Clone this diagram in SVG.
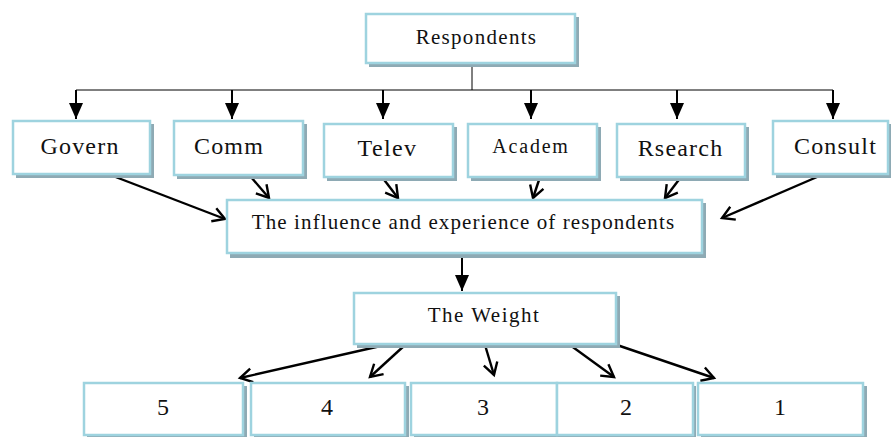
<svg xmlns="http://www.w3.org/2000/svg" width="891" height="437" viewBox="0 0 891 437">
<defs>
<style>
.sh{fill:#8eaab4}
.bx{fill:#fff;stroke:#9ed3df;stroke-width:2.5}
.t{font-family:'Liberation Serif','Times New Roman',serif;fill:#111;text-anchor:middle}
.thin{stroke:#000;stroke-width:1;fill:none}
.ar{stroke:#000;stroke-width:2;fill:none}
.ao{stroke:#000;stroke-width:2.4;fill:none}
</style>
<marker id="fa" markerUnits="userSpaceOnUse" markerWidth="16" markerHeight="14" refX="16" refY="7" orient="auto">
<path d="M0,0 L16,7 L0,14 z" fill="#000"/>
</marker>
<marker id="oa" markerUnits="userSpaceOnUse" markerWidth="16" markerHeight="18" refX="13" refY="9" orient="auto">
<path d="M1,2 L13,9 L1,16" fill="none" stroke="#000" stroke-width="2.4"/>
</marker>
</defs>
<rect width="891" height="437" fill="#fff"/>

<g id="connectors">
<line class="thin" x1="472" y1="63" x2="472" y2="90"/>
<line class="thin" x1="76" y1="90" x2="833" y2="90"/>
<line class="ar" x1="76" y1="90" x2="76" y2="119" marker-end="url(#fa)"/>
<line class="ar" x1="232" y1="90" x2="232" y2="119" marker-end="url(#fa)"/>
<line class="ar" x1="383" y1="90" x2="383" y2="119" marker-end="url(#fa)"/>
<line class="ar" x1="531" y1="90" x2="531" y2="119" marker-end="url(#fa)"/>
<line class="ar" x1="677" y1="90" x2="677" y2="119" marker-end="url(#fa)"/>
<line class="ar" x1="833" y1="90" x2="833" y2="119" marker-end="url(#fa)"/>
<line class="ao" x1="113" y1="176" x2="225" y2="219" marker-end="url(#oa)"/>
<line class="ao" x1="251" y1="177" x2="269" y2="198" marker-end="url(#oa)"/>
<line class="ao" x1="382" y1="177" x2="398" y2="198" marker-end="url(#oa)"/>
<line class="ao" x1="540" y1="177" x2="533" y2="198" marker-end="url(#oa)"/>
<line class="ao" x1="681" y1="177" x2="665" y2="198" marker-end="url(#oa)"/>
<line class="ao" x1="817" y1="177" x2="722" y2="218" marker-end="url(#oa)"/>
<line class="ar" x1="462" y1="254" x2="462" y2="291" marker-end="url(#fa)"/>
<line class="ao" x1="385" y1="345" x2="240" y2="378" marker-end="url(#oa)"/>
<line class="ao" x1="405" y1="345" x2="370" y2="377" marker-end="url(#oa)"/>
<line class="ao" x1="485" y1="345" x2="494" y2="375" marker-end="url(#oa)"/>
<line class="ao" x1="570" y1="345" x2="614" y2="377" marker-end="url(#oa)"/>
<line class="ao" x1="617" y1="345" x2="714" y2="378" marker-end="url(#oa)"/>
</g>

<g id="respondents">
<rect class="sh" x="369" y="17" width="210" height="50"/>
<rect class="bx" x="366" y="14" width="209" height="49"/>
<text class="t" x="476.5" y="44" font-size="21" letter-spacing="1.3">Respondents</text>
</g>

<g id="govern">
<rect class="sh" x="16" y="124" width="138" height="54"/>
<rect class="bx" x="13" y="121" width="137" height="53"/>
<text class="t" x="80" y="154" font-size="24" letter-spacing="1.2">Govern</text>
</g>
<g id="comm">
<rect class="sh" x="177" y="124" width="130" height="55"/>
<rect class="bx" x="174" y="121" width="129" height="54"/>
<text class="t" x="229" y="154" font-size="24" letter-spacing="1.2">Comm</text>
</g>
<g id="telev">
<rect class="sh" x="327" y="127" width="130" height="54"/>
<rect class="bx" x="324" y="124" width="129" height="53"/>
<text class="t" x="387.5" y="156" font-size="24" letter-spacing="1.4">Telev</text>
</g>
<g id="academ">
<rect class="sh" x="471" y="127" width="130" height="54"/>
<rect class="bx" x="468" y="124" width="129" height="53"/>
<text class="t" x="531" y="153" font-size="20" letter-spacing="1.8">Academ</text>
</g>
<g id="rsearch">
<rect class="sh" x="620" y="127" width="129" height="54"/>
<rect class="bx" x="617" y="124" width="128" height="53"/>
<text class="t" x="680.5" y="156" font-size="24" letter-spacing="1.2">Rsearch</text>
</g>
<g id="consult">
<rect class="sh" x="776" y="124" width="118" height="54"/>
<rect class="bx" x="773" y="121" width="115" height="53"/>
<text class="t" x="835.5" y="154" font-size="24" letter-spacing="1.2">Consult</text>
</g>

<g id="influence">
<rect class="sh" x="230" y="203" width="476" height="55"/>
<rect class="bx" x="227" y="200" width="475" height="53"/>
<text class="t" x="463.5" y="229" font-size="21" letter-spacing="1.1">The influence and experience of respondents</text>
</g>

<g id="weight">
<rect class="sh" x="357" y="296" width="263" height="52"/>
<rect class="bx" x="354" y="293" width="262" height="51"/>
<text class="t" x="484" y="322" font-size="21" letter-spacing="1.5">The Weight</text>
</g>

<g id="w5">
<rect class="sh" x="87" y="386" width="160" height="56"/>
<rect class="bx" x="84" y="383" width="159" height="52"/>
<text class="t" x="163" y="415" font-size="24">5</text>
</g>
<g id="w4">
<rect class="sh" x="254" y="386" width="155" height="56"/>
<rect class="bx" x="251" y="383" width="154" height="52"/>
<text class="t" x="327" y="415" font-size="24">4</text>
</g>
<g id="w3">
<rect class="sh" x="414" y="386" width="146" height="56"/>
<rect class="bx" x="411" y="383" width="146" height="52"/>
<text class="t" x="483" y="415" font-size="24">3</text>
</g>
<g id="w2">
<rect class="sh" x="560" y="386" width="136" height="56"/>
<rect class="bx" x="557" y="383" width="136" height="52"/>
<text class="t" x="626" y="415" font-size="24">2</text>
</g>
<g id="w1">
<rect class="sh" x="701" y="386" width="166" height="56"/>
<rect class="bx" x="698" y="383" width="165" height="52"/>
<text class="t" x="780" y="415" font-size="24">1</text>
</g>
</svg>
